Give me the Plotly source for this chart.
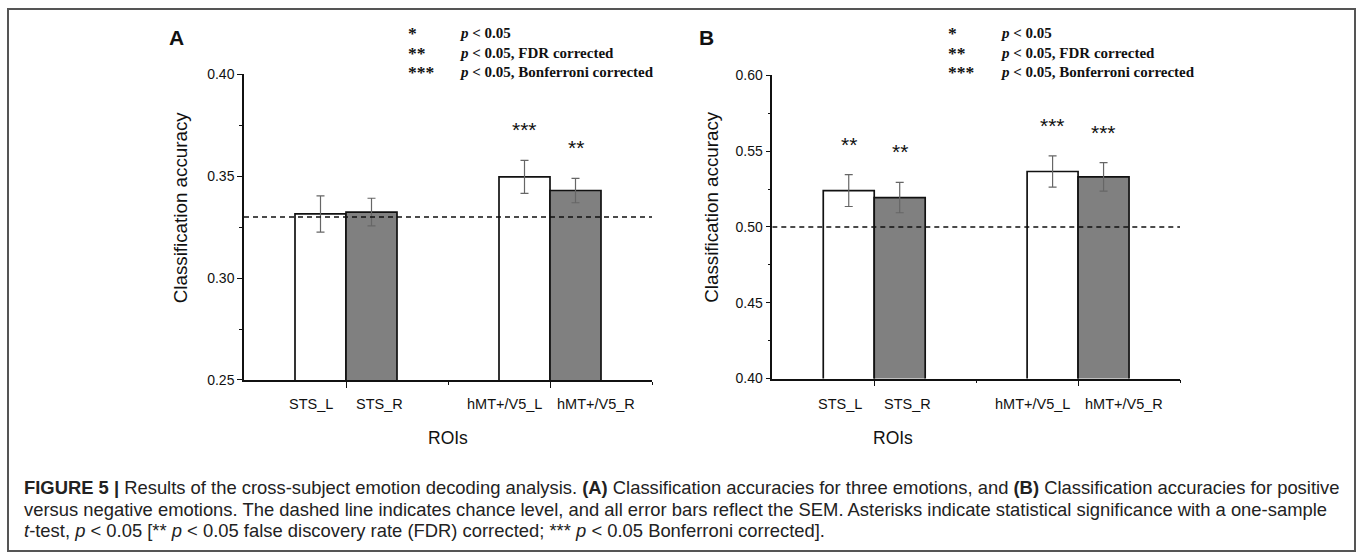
import plotly.graph_objects as go

# ---------------- data ----------------
rois = ["STS_L", "STS_R", "hMT+/V5_L", "hMT+/V5_R"]
acc_A = [0.3315, 0.3324, 0.3497, 0.3430]
sem_A = [0.0089, 0.0068, 0.0081, 0.0060]
sig_A = ["", "", "***", "**"]
chance_A = 0.33

acc_B = [0.5240, 0.5194, 0.5366, 0.5330]
sem_B = [0.0105, 0.0100, 0.0103, 0.0094]
sig_B = ["**", "**", "***", "***"]
chance_B = 0.50

yticks_A = [0.25, 0.30, 0.35, 0.40]
yticks_B = [0.40, 0.45, 0.50, 0.55, 0.60]

legend_stars = ["*", "**", "***"]
legend_texts = ["<i>p</i> &lt; 0.05", "<i>p</i> &lt; 0.05, FDR corrected",
                "<i>p</i> &lt; 0.05, Bonferroni corrected"]

caption_lines = [
    "<b>FIGURE 5 |</b> Results of the cross-subject emotion decoding analysis. <b>(A)</b> Classification accuracies for three emotions, and <b>(B)</b> Classification accuracies for positive",
    "versus negative emotions. The dashed line indicates chance level, and all error bars reflect the SEM. Asterisks indicate statistical significance with a one-sample",
    "<i>t</i>-test, <i>p</i> &lt; 0.05 [** <i>p</i> &lt; 0.05 false discovery rate (FDR) corrected; *** <i>p</i> &lt; 0.05 Bonferroni corrected].",
]

# ---------------- layout helpers ----------------
W, H = 1363, 560
# the photographed page maps figure row r to screen row 8 + 0.97 r
Y_OFF, Y_SCALE = 8.0, 0.97
def px(x):
    return x / W
def py(y):
    return 1 - ((y - Y_OFF) / Y_SCALE) / H

SANS = "Liberation Sans, Arial, sans-serif"
SERIF = "Liberation Serif, Times New Roman, serif"

pos = [1 + 2 * (i // 2) + (-0.25 if i % 2 == 0 else 0.25) for i in range(len(rois))]
label_shift = [-0.09, 0.08, -0.2, 0.2]

fig = go.Figure()

panels = [
    dict(acc=acc_A, sem=sem_A, sig=sig_A, chance=chance_A, xa="x", ya="y",
         yrange=[0.25, 0.40], yticks=yticks_A,
         xdom=[px(244), px(652)], ydom=[py(379.4), py(74.3)]),
    dict(acc=acc_B, sem=sem_B, sig=sig_B, chance=chance_B, xa="x2", ya="y2",
         yrange=[0.40, 0.60], yticks=yticks_B,
         xdom=[px(772.3), px(1180)], ydom=[py(378), py(75.3)]),
]

for p in panels:
    for side, color in [(0, "white"), (1, "#808080")]:
        idx = [i for i in range(len(rois)) if i % 2 == side]
        fig.add_trace(go.Bar(
            x=[pos[i] for i in idx], y=[p["acc"][i] for i in idx],
            width=0.5, xaxis=p["xa"], yaxis=p["ya"],
            marker=dict(color=color, line=dict(color="#111", width=1.7)),
            error_y=dict(type="data", array=[p["sem"][i] for i in idx],
                         color="#666", thickness=1.2, width=4),
            showlegend=False, hoverinfo="skip"))
    fig.add_shape(type="line", xref=p["xa"], yref=p["ya"], x0=0, x1=4,
                  y0=p["chance"], y1=p["chance"],
                  line=dict(color="#111", width=1.5, dash="5px,4px"))
    for i in range(len(rois)):
        if p["sig"][i]:
            fig.add_annotation(xref=p["xa"], yref=p["ya"], x=pos[i],
                               y=p["acc"][i] + p["sem"][i], text=p["sig"][i],
                               showarrow=False, xanchor="center", yanchor="bottom", yshift=17,
                               font=dict(family=SANS, size=21, color="#111"))
    for i in range(len(rois)):
        fig.add_annotation(xref=p["xa"], yref="paper", x=pos[i] + label_shift[i],
                           y=py(403), text=rois[i], showarrow=False,
                           xanchor="center", yanchor="middle",
                           font=dict(family=SANS, size=14.5, color="#111"))

axis_common = dict(showline=True, linecolor="#111", linewidth=1.5,
                   showgrid=False, zeroline=False, ticks="outside",
                   tickcolor="#111", tickwidth=1.2)

fig.update_layout(
    width=W, height=H, autosize=False,
    margin=dict(l=0, r=0, t=0, b=0, pad=0),
    paper_bgcolor="white", plot_bgcolor="white",
    barmode="overlay",
    xaxis=dict(domain=panels[0]["xdom"], anchor="y", range=[0, 4],
               tickvals=[1, 3], ticklen=6, showticklabels=False,
               minor=dict(tickvals=[2, 4], ticklen=3, ticks="outside", tickcolor="#111"),
               **axis_common),
    yaxis=dict(domain=panels[0]["ydom"], anchor="x", range=panels[0]["yrange"],
               tickvals=yticks_A, ticktext=[f"{v:.2f}" for v in yticks_A], ticklen=5,
               minor=dict(dtick=0.025, tick0=0.25, ticklen=3, ticks="outside", tickcolor="#111"),
               tickfont=dict(family=SANS, size=14, color="#111"),
               **axis_common),
    xaxis2=dict(domain=panels[1]["xdom"], anchor="y2", range=[0, 4],
                tickvals=[1, 3], ticklen=6, showticklabels=False,
                minor=dict(tickvals=[2, 4], ticklen=3, ticks="outside", tickcolor="#111"),
                **axis_common),
    yaxis2=dict(domain=panels[1]["ydom"], anchor="x2", range=panels[1]["yrange"],
                tickvals=yticks_B, ticktext=[f"{v:.2f}" for v in yticks_B], ticklen=5,
                minor=dict(dtick=0.025, tick0=0.40, ticklen=3, ticks="outside", tickcolor="#111"),
                tickfont=dict(family=SANS, size=14, color="#111"),
                **axis_common),
)

for xc in [180, 711.5]:
    fig.add_annotation(xref="paper", yref="paper", x=px(xc), y=py(207),
                       text="Classification accuracy", textangle=-90, showarrow=False,
                       xanchor="center", yanchor="middle",
                       font=dict(family=SANS, size=18.8, color="#111"))
for xc in [448, 893]:
    fig.add_annotation(xref="paper", yref="paper", x=px(xc), y=py(437),
                       text="ROIs", showarrow=False,
                       xanchor="center", yanchor="middle",
                       font=dict(family=SANS, size=17.5, color="#111"))

for letter, xc in [("A", 176), ("B", 706)]:
    fig.add_annotation(xref="paper", yref="paper", x=px(xc), y=py(37),
                       text=f"<b>{letter}</b>", showarrow=False,
                       xanchor="center", yanchor="middle",
                       font=dict(family=SANS, size=21, color="#111"))

for xs, xp in [(406, 457), (946, 998)]:
    for k in range(3):
        yy = py(33 + 19.5 * k)
        fig.add_annotation(xref="paper", yref="paper", x=px(xs), y=yy,
                           text=f"<b>{legend_stars[k]}</b>", showarrow=False,
                           xanchor="left", yanchor="middle",
                           font=dict(family=SERIF, size=17.5, color="#111"))
        fig.add_annotation(xref="paper", yref="paper", x=px(xp), y=yy,
                           text=f"<b>{legend_texts[k]}</b>", showarrow=False,
                           xanchor="left", yanchor="middle",
                           font=dict(family=SERIF, size=15, color="#111"))

for k, line in enumerate(caption_lines):
    fig.add_annotation(xref="paper", yref="paper", x=px(22), y=py(487 + 21.5 * k),
                       text=line, showarrow=False, xanchor="left", yanchor="middle",
                       font=dict(family=SANS, size=18.4, color="#222"))

fig.add_shape(type="rect", xref="paper", yref="paper",
              x0=px(8), x1=px(1355), y0=max(py(553), 0.002), y1=py(9),
              line=dict(color="#555", width=2))

fig.write_html("out.html", config={"responsive": False, "displayModeBar": False},
               post_script="document.body.style.margin='0';document.body.style.overflow='hidden';")
